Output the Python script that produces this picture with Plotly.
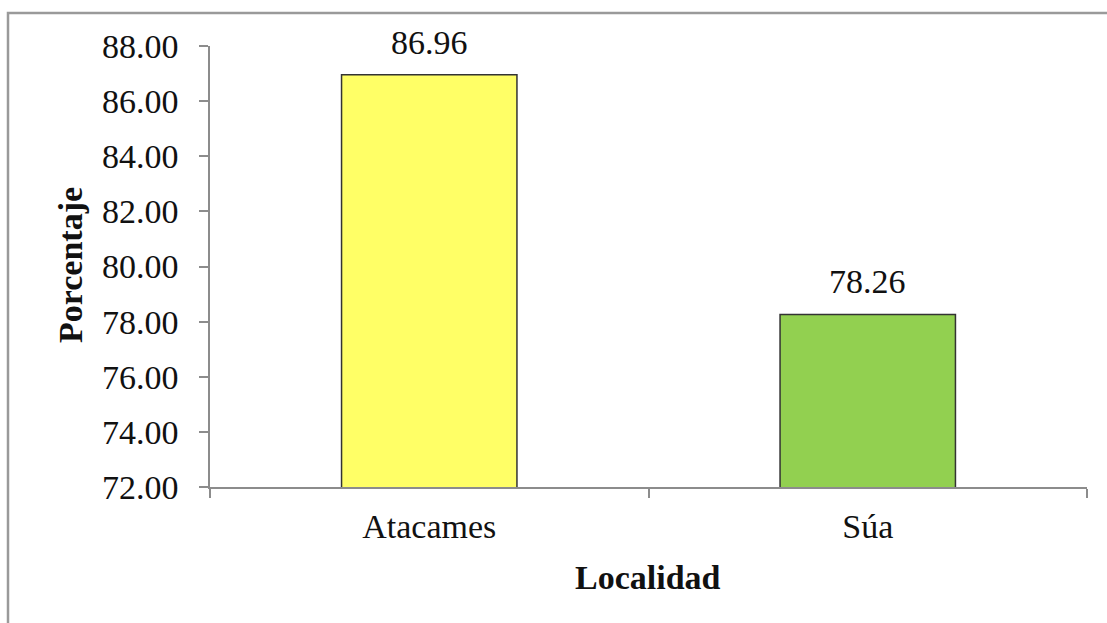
import plotly.graph_objects as go

# Data
localidades = ["Atacames", "Súa"]
porcentajes = [86.96, 78.26]
colores = ["#FFFF66", "#92D050"]
y_ticks = [72, 74, 76, 78, 80, 82, 84, 86, 88]

W, H = 1107, 623
ML, MR, MT, MB = 210, 20, 46, 136
pw, ph = W - ML - MR, H - MT - MB

def px_x(p):
    return (p - ML) / pw

def px_y(p):
    return (H - MB - p) / ph

font_family = "Liberation Serif, Times New Roman, serif"
txt_color = "#111111"

fig = go.Figure()
fig.add_trace(go.Bar(
    x=localidades,
    y=porcentajes,
    marker=dict(color=colores, line=dict(color="#333333", width=1.5)),
    width=0.4,
))

# value labels above each bar
value_labels = [
    dict(x=cat, y=val, xref="x", yref="y", text=f"{val:.2f}",
         showarrow=False, yanchor="bottom", yshift=12,
         font=dict(size=34, family=font_family, color=txt_color))
    for cat, val in zip(localidades, porcentajes)
]

fig.update_layout(
    width=W, height=H,
    margin=dict(l=ML, r=MR, t=MT, b=MB),
    paper_bgcolor="white",
    plot_bgcolor="white",
    showlegend=False,
    font=dict(family=font_family, color=txt_color),
    xaxis=dict(
        showline=True, linecolor="#8c8c8c", linewidth=1.5,
        ticks="outside", tickson="boundaries", ticklen=9, tickcolor="#8c8c8c",
        tickwidth=1.5,
        tickfont=dict(size=34, family=font_family, color=txt_color),
        ticklabelstandoff=8,
        showgrid=False, zeroline=False,
    ),
    yaxis=dict(
        range=[72, 88], tickvals=y_ticks,
        ticktext=[f"{t:.2f}" for t in y_ticks],
        showline=True, linecolor="#8c8c8c", linewidth=1.5,
        ticks="outside", ticklen=9, tickcolor="#8c8c8c", tickwidth=1.5,
        tickfont=dict(size=34, family=font_family, color=txt_color),
        ticklabelstandoff=14,
        showgrid=False, zeroline=False,
    ),
    annotations=value_labels + [
        dict(text="<b>Porcentaje</b>", textangle=-90, xref="paper", yref="paper",
             x=px_x(70), y=px_y(265), showarrow=False,
             font=dict(size=34, family=font_family, color=txt_color),
             xanchor="center", yanchor="middle"),
        dict(text="<b>Localidad</b>", xref="paper", yref="paper",
             x=px_x(648), y=px_y(577), showarrow=False,
             font=dict(size=34, family=font_family, color=txt_color),
             xanchor="center", yanchor="middle"),
    ],
    shapes=[
        dict(type="rect", xref="paper", yref="paper",
             x0=px_x(8), x1=px_x(1112), y0=px_y(628), y1=px_y(13),
             line=dict(color="#9a9a9a", width=2.5), fillcolor="rgba(0,0,0,0)",
             layer="below"),
    ],
)

fig.write_html("out.html")
